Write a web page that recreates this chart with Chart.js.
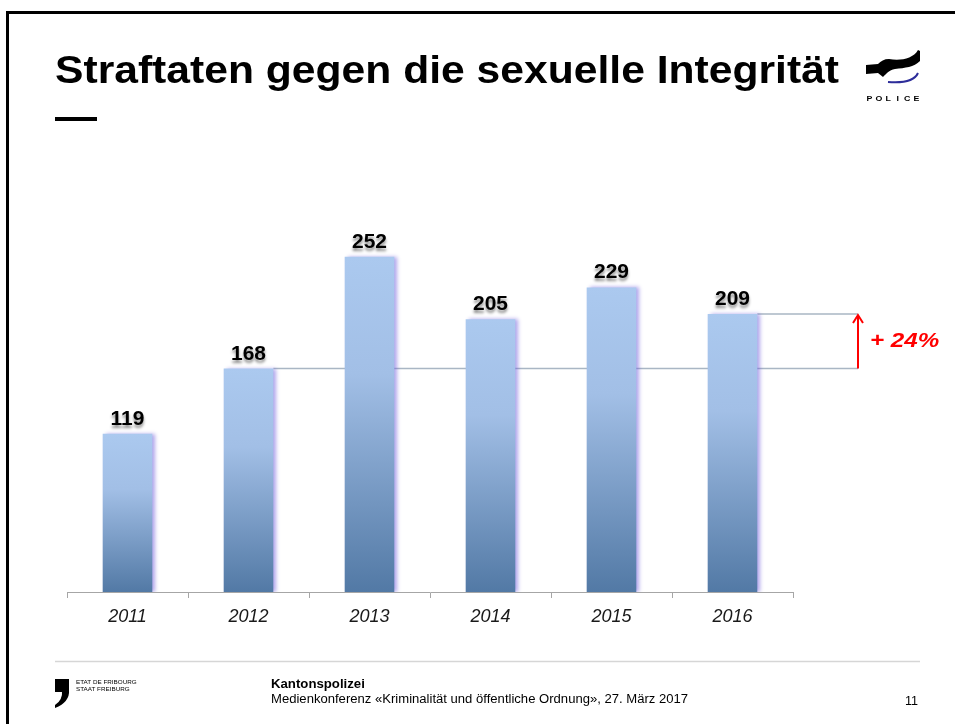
<!DOCTYPE html>
<html>
<head>
<meta charset="utf-8">
<script src="https://cdn.jsdelivr.net/npm/chart.js@4.4.1/dist/chart.umd.min.js"></script>
<style>
html,body{margin:0;padding:0;background:#fff;}
#wrap{width:955px;height:724px;position:relative;}
canvas{display:block;}
</style>
</head>
<body>
<div id="wrap"><canvas id="c" width="955" height="724"></canvas></div>
<script>
const title = "Straftaten gegen die sexuelle Integrität";
const years = ["2011", "2012", "2013", "2014", "2015", "2016"];
const cases = [119, 168, 252, 205, 229, 209];
const yMax = 300;
const compareFrom = 1;   // index of 2012
const compareTo = 5;     // index of 2016
const changeLabel = "+ 24%";
const footerOrg = ["ETAT DE FRIBOURG", "STAAT FREIBURG"];
const footerTitle = "Kantonspolizei";
const footerText = "Medienkonferenz «Kriminalität und öffentliche Ordnung», 27. März 2017";
const pageNo = "11";

const FONT = "'Liberation Sans', Arial, Helvetica, sans-serif";

function text(c, str, x, y, font, align, sx) {
  c.save();
  c.font = font;
  c.translate(x, y);
  c.scale(sx || 1, 1);
  c.textAlign = align || 'left';
  c.fillText(str, 0, 0);
  c.restore();
}

function barGradient(ctx) {
  const chart = ctx.chart;
  if (!chart.chartArea || !chart.scales.y) return '#8aa9d2';
  const y = chart.scales.y;
  const top = y.getPixelForValue(ctx.raw);
  const bottom = y.getPixelForValue(0);
  const g = chart.ctx.createLinearGradient(0, top, 0, bottom);
  g.addColorStop(0, '#abc9ef');
  g.addColorStop(0.35, '#a2bfe6');
  g.addColorStop(1, '#5279a5');
  return g;
}

const decor = {
  id: 'decor',
  beforeDraw(chart) {
    const c = chart.ctx;
    c.save();
    c.fillStyle = '#fff';
    c.fillRect(0, 0, chart.width, chart.height);
    // slide border
    c.fillStyle = '#000';
    c.fillRect(6, 11, 949, 3);
    c.fillRect(6, 11, 3, 713);
    // title
    c.textBaseline = 'alphabetic';
    text(c, title, 55, 83, "bold 39px " + FONT, 'left', 1.093);
    c.fillRect(55, 117, 42, 4);
    // police logo
    c.beginPath();
    c.moveTo(866, 65);
    c.lineTo(878, 64);
    c.bezierCurveTo(881, 61, 884, 59, 889, 59);
    c.bezierCurveTo(900, 61, 913, 59, 918, 50);
    c.lineTo(920, 51);
    c.lineTo(920, 61);
    c.bezierCurveTo(914, 67, 905, 68, 895, 69);
    c.bezierCurveTo(889, 70, 886, 74, 883, 77);
    c.lineTo(878, 73);
    c.lineTo(866, 74);
    c.closePath();
    c.fill();
    c.strokeStyle = '#2d2d9a';
    c.lineWidth = 2;
    c.beginPath();
    c.moveTo(888, 82);
    c.quadraticCurveTo(913, 84, 918, 73);
    c.stroke();
    c.fillStyle = '#000';
    const letters = "POLICE";
    for (let i = 0; i < letters.length; i++) {
      text(c, letters[i], 869.5 + i * 9.4, 101, "bold 8px " + FONT, 'center', 1.1);
    }
    // footer
    c.strokeStyle = '#d6d6d6';
    c.lineWidth = 1.5;
    c.beginPath();
    c.moveTo(55, 661.5);
    c.lineTo(920, 661.5);
    c.stroke();
    c.fillStyle = '#000';
    c.fillRect(55, 679, 14, 13);
    c.beginPath();
    c.moveTo(55, 708);
    c.quadraticCurveTo(70, 702, 69, 690);
    c.lineTo(69, 688);
    c.lineTo(62, 690);
    c.quadraticCurveTo(63, 700, 55, 705);
    c.closePath();
    c.fill();
    text(c, footerOrg[0], 76, 684, "6px " + FONT, 'left', 1.05);
    text(c, footerOrg[1], 76, 691, "6px " + FONT, 'left', 1.05);
    text(c, footerTitle, 271, 688, "bold 12px " + FONT, 'left', 1.1);
    text(c, footerText, 271, 703, "12px " + FONT, 'left', 1.09);
    text(c, pageNo, 905, 705, "12px " + FONT, 'left', 1.05);
    c.restore();
  },
  beforeDatasetsDraw(chart) {
    const c = chart.ctx;
    const y = chart.scales.y;
    const meta = chart.getDatasetMeta(0);
    const b1 = meta.data[compareFrom];
    const b2 = meta.data[compareTo];
    const endX = 858;
    const y1 = y.getPixelForValue(cases[compareFrom]);
    const y2 = y.getPixelForValue(cases[compareTo]);
    c.save();
    c.strokeStyle = '#a9b6c4';
    c.lineWidth = 1.5;
    c.beginPath();
    c.moveTo(b1.x + b1.width / 2, y1);
    c.lineTo(endX, y1);
    c.moveTo(b2.x + b2.width / 2, y2);
    c.lineTo(endX, y2);
    c.stroke();
    c.restore();
  },
  beforeDatasetDraw(chart) {
    const c = chart.ctx;
    c.save();
    c.shadowColor = 'rgba(110,90,220,0.55)';
    c.shadowOffsetX = 3;
    c.shadowOffsetY = 0;
    c.shadowBlur = 4;
  },
  afterDatasetDraw(chart) {
    chart.ctx.restore();
  },
  afterDatasetsDraw(chart) {
    const c = chart.ctx;
    const y = chart.scales.y;
    const meta = chart.getDatasetMeta(0);
    c.save();
    c.textBaseline = 'alphabetic';
    meta.data.forEach((bar, i) => {
      c.shadowColor = 'rgba(0,0,0,0.45)';
      c.shadowOffsetY = 3;
      c.shadowBlur = 3;
      c.fillStyle = '#000';
      text(c, String(cases[i]), bar.x, bar.y - 9, "bold 20px " + FONT, 'center', 1.05);
    });
    c.restore();
    // arrow
    const endX = 858;
    const y1 = y.getPixelForValue(cases[compareFrom]);
    const y2 = y.getPixelForValue(cases[compareTo]);
    c.save();
    c.strokeStyle = '#ff0000';
    c.lineWidth = 2;
    c.beginPath();
    c.moveTo(endX, y1);
    c.lineTo(endX, y2 + 1);
    c.moveTo(endX - 5, y2 + 9);
    c.lineTo(endX, y2 + 1);
    c.lineTo(endX + 5, y2 + 9);
    c.stroke();
    c.fillStyle = '#ff0000';
    c.textBaseline = 'middle';
    text(c, changeLabel, 870, (y1 + y2) / 2, "italic bold 21px " + FONT, 'left', 1.15);
    c.restore();
  }
};

new Chart(document.getElementById('c'), {
  type: 'bar',
  data: {
    labels: years,
    datasets: [{
      data: cases,
      backgroundColor: barGradient,
      borderWidth: 0,
      categoryPercentage: 1,
      barPercentage: 0.41
    }]
  },
  options: {
    responsive: false,
    animation: false,
    devicePixelRatio: 1,
    layout: { padding: { left: 67, right: 162, top: 193, bottom: 92 } },
    plugins: { legend: { display: false }, tooltip: { enabled: false } },
    scales: {
      y: { display: false, min: 0, max: yMax },
      x: {
        afterFit(scale) { scale.height = 40; },
        border: { display: true, color: '#a6a6a6', width: 1 },
        grid: { display: true, drawOnChartArea: false, drawTicks: true, tickLength: 6, color: '#a6a6a6', offset: true },
        ticks: { color: '#1a1a1a', padding: 8, font: { family: FONT, size: 18, style: 'italic' } }
      }
    }
  },
  plugins: [decor]
});
</script>
</body>
</html>
